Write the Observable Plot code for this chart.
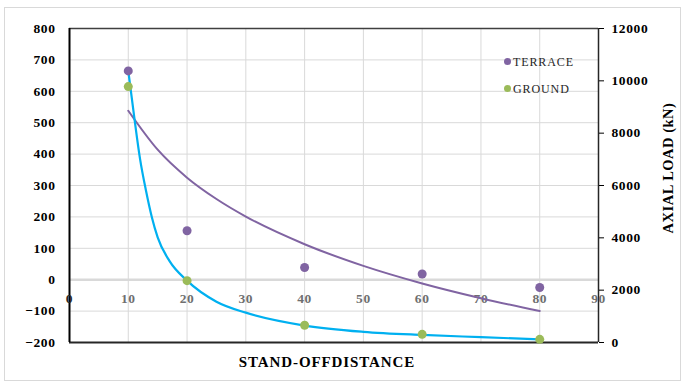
<!DOCTYPE html>
<html><head><meta charset="utf-8">
<script src="https://cdn.jsdelivr.net/npm/d3@7"></script>
<script src="https://cdn.jsdelivr.net/npm/@observablehq/plot@0.6"></script>
<style>
body{margin:0;background:#fff;}
#wrap{position:relative;width:684px;height:385px;font-family:"Liberation Serif","Times New Roman",serif;overflow:hidden;}
#border{position:absolute;left:4px;top:7px;width:677px;height:374px;border:1px solid #d9d9d9;box-sizing:border-box;}
#chart{position:absolute;left:0;top:0;}
#chart svg text{font-family:"Liberation Serif","Times New Roman",serif;letter-spacing:0.6px;}
.leg{position:absolute;left:504px;font-size:12px;letter-spacing:0.9px;color:#262626;white-space:nowrap;line-height:12px;}
.leg span{display:inline-block;width:7px;height:7px;border-radius:50%;margin-right:2px;vertical-align:1px;}
#xtitle{position:absolute;left:0;width:654px;top:354px;text-align:center;font-weight:bold;font-size:15px;color:#000;letter-spacing:0.9px;}
#ytitle{position:absolute;left:668px;top:168px;transform:translate(-50%,-50%) rotate(-90deg);font-weight:bold;font-size:14.5px;letter-spacing:0.5px;white-space:nowrap;color:#000;}
</style></head>
<body>
<div id="wrap">
<div id="border"></div>
<div id="chart"></div>
<div class="leg" style="top:56px"><span style="background:#8064A2"></span>TERRACE</div>
<div class="leg" style="top:83px"><span style="background:#9BBB59"></span>GROUND</div>
<div id="xtitle">STAND-OFFDISTANCE</div>
<div id="ytitle">AXIAL LOAD (kN)</div>
</div>
<script>
const distances = [10, 20, 40, 60, 80];
const terrace = [665, 156, 39, 18, -25];
const ground = [615, -3, -145, -174, -190];
const terraceTrendX = [10, 15, 20, 25, 30, 40, 50, 60, 70, 80];
const terraceTrendY = [538, 414, 325, 257, 201, 113, 44, -12, -59, -100];
const groundTrendX = [10, 11, 12, 13, 14, 15, 17, 20, 25, 30, 40, 50, 60, 70, 80];
const groundTrendY = [665, 520, 385, 285, 200, 135, 60, -3, -70, -105, -146, -166, -176, -183, -190];
const xTicks = [0, 10, 20, 30, 40, 50, 60, 70, 80, 90];
const yTicks = [-200, -100, 0, 100, 200, 300, 400, 500, 600, 700, 800];
const rightTicks = [0, 2000, 4000, 6000, 8000, 10000, 12000];

const serif = '"Liberation Serif","Times New Roman",serif';
const toLeft = v => -200 + v * 1000 / 12000;
const pts = (xs, ys) => xs.map((x, i) => ({x, y: ys[i]}));
const terracePts = pts(distances, terrace);
const groundPts = pts(distances, ground);
const terraceTrend = pts(terraceTrendX, terraceTrendY);
const groundTrend = pts(groundTrendX, groundTrendY);

const chart = Plot.plot({
  width: 684, height: 385,
  marginLeft: 69, marginRight: 86, marginTop: 28, marginBottom: 43,
  style: {fontFamily: serif, background: "transparent"},
  x: {domain: [0, 90], axis: null},
  y: {domain: [-200, 800], axis: null},
  marks: [
    Plot.gridY(yTicks, {stroke: "#d9d9d9", strokeOpacity: 1}),
    Plot.gridX(xTicks, {stroke: "#d9d9d9", strokeOpacity: 1}),
    Plot.ruleY([0], {stroke: "#d9d9d9", strokeWidth: 2.5}),
    Plot.ruleY([800], {stroke: "#404040", strokeWidth: 1.5}),
    Plot.ruleY([-200], {stroke: "#262626", strokeWidth: 2}),
    Plot.ruleX([0], {stroke: "#000", strokeWidth: 2}),
    Plot.ruleX([90], {stroke: "#262626", strokeWidth: 1.5}),
    Plot.axisY(yTicks, {anchor: "left", label: null, tickSize: 0, tickPadding: 14, fontWeight: "bold", fontSize: 13.5, fontFamily: serif, fill: "#000"}),
    Plot.axisY(rightTicks.map(toLeft), {anchor: "right", label: null, tickSize: 5, tickPadding: 8, fontWeight: "bold", fontSize: 13.5, fontFamily: serif, fill: "#000",
      tickFormat: d => String(Math.round((d + 200) * 12))}),
    Plot.text(xTicks, {x: d => d, y: () => 0, dy: 19, text: d => String(d), fill: d => d === 0 ? "#262626" : "#6f6f6f", fontWeight: "bold", fontSize: 13.5, fontFamily: serif}),
    Plot.line(terraceTrend, {x: "x", y: "y", stroke: "#8064A2", strokeWidth: 2, curve: "monotone-x"}),
    Plot.line(groundTrend, {x: "x", y: "y", stroke: "#00B0F0", strokeWidth: 2.2, curve: "monotone-x"}),
    Plot.dot(groundPts, {x: "x", y: "y", r: 4.5, fill: "#9BBB59"}),
    Plot.dot(terracePts, {x: "x", y: "y", r: 4.5, fill: "#8064A2"})
  ]
});
document.getElementById("chart").appendChild(chart);
</script>
</body></html>
